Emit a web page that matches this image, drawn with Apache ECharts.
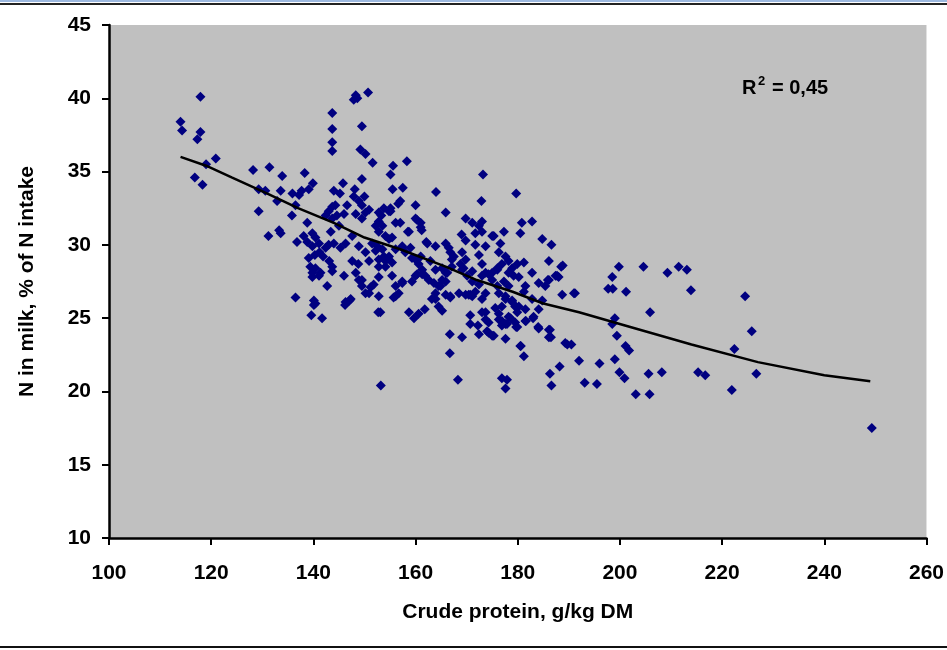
<!DOCTYPE html>
<html>
<head>
<meta charset="utf-8">
<title>N in milk vs crude protein</title>
<script src="https://cdn.jsdelivr.net/npm/echarts@6/dist/echarts.min.js"></script>
<style>
  html, body { margin: 0; padding: 0; background: #fff; }
  #chart { width: 947px; height: 650px; }
</style>
</head>
<body>
<div id="chart"></div>
<script>
// observations: [crude protein g/kg DM, N in milk % of N intake]
const observations = [
  [114.0, 38.4], [114.3, 37.8], [117.9, 40.1], [117.9, 37.7], [117.3, 37.2], [119.0, 35.5], [120.9, 35.9], [116.8, 34.6], [118.3, 34.1],
  [128.2, 35.1], [131.4, 35.3], [133.9, 34.7], [129.3, 33.8], [130.6, 33.7], [129.3, 32.3], [131.2, 30.6], [133.3, 31.0], [133.6, 30.8],
  [136.8, 30.2], [135.8, 32.0], [138.3, 34.9], [133.6, 33.7], [135.9, 33.5], [137.2, 33.4], [137.7, 33.7], [139.1, 33.8], [139.9, 34.2],
  [138.8, 31.5], [132.9, 33.0], [136.5, 32.7],
  [143.7, 39.0], [143.7, 37.9], [143.7, 37.0], [143.7, 36.4], [148.3, 40.2], [148.6, 40.0], [147.9, 39.9], [150.7, 40.4], [149.5, 38.1],
  [149.2, 36.5], [150.2, 36.2], [151.6, 35.6], [149.5, 34.5], [145.8, 34.2], [144.0, 33.7], [145.2, 33.5], [148.1, 33.8], [147.9, 33.3],
  [148.9, 33.0], [150.0, 33.3], [149.5, 32.7], [146.6, 32.7], [146.0, 32.1], [143.7, 32.6], [144.3, 32.7], [143.0, 32.3], [142.4, 32.0],
  [143.7, 31.8], [144.6, 32.0], [145.0, 31.3], [143.4, 30.9], [139.8, 30.8], [138.1, 30.6], [140.4, 30.5], [141.1, 30.1], [142.4, 29.8],
  [143.0, 30.0], [144.0, 30.1], [138.8, 30.2], [139.8, 29.9], [139.1, 29.1], [140.3, 29.3], [141.2, 29.5], [141.9, 29.2], [139.4, 28.5],
  [140.4, 28.4], [139.8, 28.1], [141.4, 28.1], [143.1, 28.9], [143.7, 28.5], [143.7, 28.2], [145.3, 29.8], [146.3, 30.1], [147.6, 30.6],
  [139.8, 27.8], [141.1, 27.9], [146.0, 27.9], [142.7, 27.2], [147.6, 28.9], [148.8, 28.7], [148.3, 28.1], [149.5, 27.6], [149.5, 27.2],
  [150.2, 26.7], [151.2, 27.1], [151.8, 27.3], [152.8, 27.8], [136.5, 26.4], [140.1, 26.2], [140.4, 26.0], [146.3, 26.1], [147.3, 26.3],
  [148.3, 32.1], [149.5, 31.8], [150.2, 32.2], [150.9, 32.4], [152.2, 31.3], [153.5, 31.3], [152.8, 30.9], [153.8, 32.5], [152.8, 32.2],
  [153.3, 32.0], [154.8, 32.3], [155.1, 32.5], [155.6, 35.4], [155.1, 34.8], [155.5, 33.8], [156.1, 31.5], [154.1, 30.6], [154.8, 30.4],
  [155.4, 30.5], [151.5, 30.1], [152.5, 29.9], [152.2, 29.6], [153.5, 29.7], [152.8, 29.0], [154.1, 28.9], [155.4, 28.8], [154.8, 29.2],
  [150.9, 28.9], [148.9, 29.9], [150.2, 29.5], [155.1, 32.3], [152.8, 31.6], [157.4, 29.8], [153.8, 29.2], [152.8, 28.5], [155.4, 27.9],
  [140.1, 25.9], [139.6, 25.2], [141.7, 25.0], [146.2, 25.9], [147.1, 26.2], [152.7, 25.4], [156.1, 26.5], [156.7, 26.7], [158.7, 25.4],
  [159.7, 25.0], [160.6, 25.3], [161.8, 25.6], [163.9, 26.3], [164.5, 25.8], [165.2, 25.5], [165.9, 26.6], [166.8, 26.4], [169.8, 26.6],
  [170.7, 26.6], [166.7, 23.9], [169.1, 23.7], [166.7, 22.6], [170.7, 25.2], [172.2, 24.5], [173.0, 25.4], [173.7, 24.9], [174.3, 24.7],
  [174.0, 24.1], [175.0, 23.8], [175.6, 25.7], [176.3, 25.3], [176.9, 24.8], [177.9, 24.6], [178.2, 25.1], [176.9, 25.8], [177.6, 26.5],
  [178.9, 26.2], [179.5, 25.8], [179.9, 25.4], [179.5, 24.7], [177.6, 23.6], [179.7, 24.4], [180.6, 23.1], [181.2, 22.4], [181.6, 24.8],
  [183.1, 25.1], [184.1, 25.6], [184.1, 24.3], [186.3, 24.2], [186.1, 23.7], [189.3, 23.3], [188.7, 26.6], [188.2, 21.7], [186.3, 21.2],
  [186.6, 20.4], [176.9, 20.9], [177.9, 20.8], [177.6, 20.2], [168.3, 20.8], [153.2, 20.4], [180.5, 23.1], [172.4, 23.9], [175.3, 23.8],
  [192.0, 22.1], [196.0, 21.9], [199.0, 22.2], [193.1, 20.6], [195.5, 20.5], [199.9, 21.3], [200.9, 20.9], [203.1, 19.8], [205.8, 19.8],
  [205.6, 21.2], [208.2, 21.3], [215.3, 21.3], [216.7, 21.1], [221.9, 20.1], [226.7, 21.2],
  [188.8, 28.6], [188.0, 27.8], [191.2, 26.7], [199.8, 28.5], [198.5, 27.8], [197.7, 27.0], [198.6, 27.0], [201.2, 26.8], [204.6, 28.5],
  [209.3, 28.1], [211.5, 28.5], [213.1, 28.3], [213.9, 26.9], [224.5, 26.5], [225.8, 24.1], [222.4, 22.9], [205.9, 25.4], [199.0, 25.0],
  [198.5, 24.6], [199.4, 23.8], [201.1, 23.1], [201.8, 22.8], [189.7, 23.2], [190.5, 23.2], [249.3, 17.5],
  [158.3, 35.7], [173.2, 34.8], [172.9, 33.0], [179.7, 33.5], [164.0, 33.6], [157.5, 33.9], [157.0, 33.0], [156.6, 32.8], [160.0, 32.7],
  [165.9, 32.2], [160.0, 31.8], [161.0, 31.5], [157.0, 31.5], [158.7, 30.9], [161.0, 31.2], [162.3, 30.1], [163.9, 29.9], [165.9, 30.1],
  [166.5, 29.8], [166.8, 29.5], [167.1, 29.0], [169.0, 30.7], [169.8, 30.3], [169.8, 31.8], [171.1, 31.5], [172.4, 31.3], [173.0, 31.6],
  [171.7, 30.8], [173.0, 30.9], [175.0, 30.6], [177.3, 30.9], [176.6, 30.1], [180.8, 31.5], [182.8, 31.6], [180.5, 30.8], [184.8, 30.4],
  [186.6, 30.0], [186.1, 28.9], [187.7, 27.9], [185.9, 27.6], [191.0, 26.7], [182.8, 28.1], [181.2, 28.8], [179.9, 28.7], [178.9, 28.4],
  [178.2, 28.1], [179.2, 27.9], [180.2, 27.8], [181.5, 27.2], [181.2, 26.8], [176.3, 29.5], [177.6, 29.2], [178.2, 28.9], [176.9, 28.7],
  [176.0, 28.4], [175.0, 28.1], [173.7, 29.9], [171.7, 30.0], [172.4, 29.3], [173.0, 28.7], [173.7, 28.1], [175.0, 27.6], [176.0, 27.2],
  [176.3, 26.7], [177.6, 26.3], [178.9, 26.1], [169.1, 29.5], [169.8, 29.0], [169.1, 28.3], [170.1, 27.9], [171.1, 27.5], [172.4, 27.3],
  [171.7, 26.8], [173.7, 26.7], [173.0, 26.3], [167.1, 28.5], [165.9, 28.1], [165.2, 27.6], [164.5, 27.2], [163.9, 26.7], [163.2, 26.3],
  [160.0, 29.0], [160.6, 28.7], [161.3, 28.3], [160.3, 28.0], [161.9, 27.9], [162.6, 27.6], [157.4, 29.9], [156.1, 29.7], [158.0, 29.5],
  [159.0, 29.8], [154.1, 28.5], [157.4, 27.5], [156.1, 27.2], [155.7, 26.4], [150.9, 26.7], [148.9, 27.6], [182.8, 26.3], [184.8, 26.2],
  [180.2, 25.8], [181.5, 25.6], [158.5, 30.9], [160.3, 31.7], [161.2, 31.0], [162.1, 30.2], [167.5, 29.2], [175.3, 30.6], [159.3, 29.1],
  [161.0, 29.2], [162.9, 28.9], [163.9, 28.3], [165.2, 28.4], [166.2, 28.1], [168.8, 28.7], [169.4, 28.4], [171.1, 28.2], [173.0, 27.9],
  [174.3, 28.0], [176.0, 28.3], [177.3, 27.5], [178.2, 27.2], [184.1, 27.4], [185.4, 27.2], [186.1, 27.6], [187.4, 27.9], [188.5, 28.5],
  [157.4, 27.4], [159.3, 27.5], [160.0, 27.9], [161.3, 28.0], [163.6, 27.4], [164.9, 27.2], [165.9, 27.5], [166.8, 26.5], [152.8, 26.5],
  [153.1, 25.4], [168.5, 26.7], [170.4, 26.6], [171.1, 26.5], [170.7, 24.6], [173.7, 25.4], [174.3, 24.0], [176.3, 24.9], [176.9, 24.5],
  [177.6, 24.6], [178.6, 25.0], [179.6, 25.8], [179.9, 24.4], [181.5, 24.8], [183.0, 25.0], [184.0, 24.4], [186.1, 24.2], [186.5, 23.7]
]

// trend curve
const trendX = [114, 119, 124, 131, 137, 144, 150, 157, 166, 172, 179, 185, 192, 201, 214, 227, 240, 249]
const trendY = [36.0, 35.4, 34.6, 33.5, 32.5, 31.5, 30.5, 29.7, 28.5, 27.6, 26.8, 26.0, 25.4, 24.5, 23.2, 22.0, 21.1, 20.7]

const xTicks = [100, 260, 20]
const yTicks = [10, 45, 5]
const rSquared = '0,45'

const font = 'Liberation Sans, Arial, Helvetica, sans-serif'
const trend = trendX.map((x, i) => [x, trendY[i]])

const chartDom = document.getElementById('chart')
const myChart = echarts.init(chartDom, null, { renderer: 'canvas' })
const option = {
  animation: false,
  backgroundColor: '#ffffff',
  grid: {
    left: 109,
    right: 19,
    top: 25,
    bottom: 112,
    show: true,
    backgroundColor: '#C0C0C0',
    borderWidth: 0
  },
  xAxis: {
    type: 'value',
    min: xTicks[0],
    max: xTicks[1],
    interval: xTicks[2],
    name: 'Crude protein, g/kg DM',
    nameLocation: 'middle',
    nameGap: 64,
    nameTextStyle: { color: '#000', fontFamily: font, fontWeight: 'bold', fontSize: 21 },
    axisLine: { onZero: false, lineStyle: { color: '#000', width: 2.5 } },
    axisTick: { length: 7, lineStyle: { color: '#000', width: 2 } },
    axisLabel: { margin: 25, color: '#000', fontFamily: font, fontWeight: 'bold', fontSize: 21 },
    splitLine: { show: false }
  },
  yAxis: {
    type: 'value',
    min: yTicks[0],
    max: yTicks[1],
    interval: yTicks[2],
    name: 'N in milk, % of N intake',
    nameLocation: 'middle',
    nameGap: 71,
    nameTextStyle: { color: '#000', fontFamily: font, fontWeight: 'bold', fontSize: 21 },
    axisLine: { onZero: false, lineStyle: { color: '#000', width: 2.5 } },
    axisTick: { length: 7, lineStyle: { color: '#000', width: 2 } },
    axisLabel: { margin: 18, color: '#000', fontFamily: font, fontWeight: 'bold', fontSize: 21 },
    splitLine: { show: false }
  },
  graphic: [
    { type: 'rect', left: 0, top: 0, shape: { width: 947, height: 2 }, style: { fill: '#9DB9E0' }, silent: true },
    { type: 'rect', left: 0, top: 3, shape: { width: 947, height: 2 }, style: { fill: '#222' }, silent: true },
    { type: 'rect', left: 0, top: 646, shape: { width: 947, height: 2 }, style: { fill: '#111' }, silent: true },
    { type: 'text', left: 742, top: 78, style: { text: 'R', fill: '#000', font: 'bold 20px ' + font } },
    { type: 'text', left: 758, top: 75, style: { text: '2', fill: '#000', font: 'bold 13px ' + font } },
    { type: 'text', left: 772, top: 78, style: { text: '= ' + rSquared, fill: '#000', font: 'bold 20px ' + font } }
  ],
  series: [
    {
      name: 'observations',
      type: 'scatter',
      symbol: 'diamond',
      symbolSize: 10,
      itemStyle: { color: '#000080', opacity: 1 },
      data: observations,
      z: 2
    },
    {
      name: 'trend',
      type: 'line',
      showSymbol: false,
      smooth: false,
      lineStyle: { color: '#000', width: 2.5 },
      data: trend,
      z: 3
    }
  ]
}
myChart.setOption(option)
</script>
</body>
</html>
